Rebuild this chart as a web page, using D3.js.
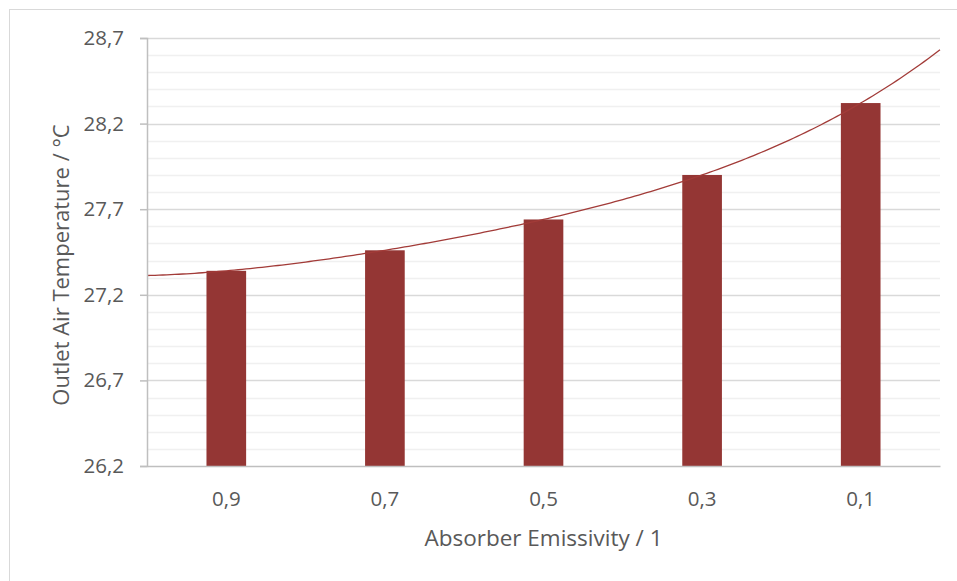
<!DOCTYPE html>
<meta charset="utf-8">
<style>
body { margin: 0; background: #fff; }
text { font-family: "Open Sans", sans-serif; fill: #595959; }
</style>
<body>
<script src="https://d3js.org/d3.v7.min.js"></script>
<script>

// data
var categories = ["0,9", "0,7", "0,5", "0,3", "0,1"];
var temps = [27.34, 27.46, 27.64, 27.90, 28.32];
var majorTicks = [26.2, 26.7, 27.2, 27.7, 28.2, 28.7];

var W = 957, H = 581;
var margin = {top: 38, right: 17, bottom: 115, left: 147},
    width = W - margin.left - margin.right,
    height = H - margin.top - margin.bottom;

var svg = d3.select("body").append("svg")
    .attr("width", W)
    .attr("height", H);

// chart frame
svg.append("rect")
    .attr("x", 9.5).attr("y", 9.5)
    .attr("width", 1000).attr("height", 1000)
    .attr("fill", "none")
    .attr("stroke", "#d9d9d9");

var g = svg.append("g")
    .attr("transform", `translate(${margin.left}, ${margin.top})`);

var x = d3.scaleBand()
    .domain(categories)
    .range([0, width])
    .paddingInner(0.75)
    .paddingOuter(0.375);

var y = d3.scaleLinear()
    .domain([26.2, 28.7])
    .range([height, 0]);

// minor gridlines every 0.1
var minor = d3.range(0, 26).map(i => +(26.2 + i * 0.1).toFixed(1))
    .filter(v => majorTicks.indexOf(v) < 0);

g.selectAll(".minor")
  .data(minor)
  .enter().append("line")
    .attr("class", "minor")
    .attr("x1", 0).attr("x2", width)
    .attr("y1", d => Math.round(y(d)) + 0.5)
    .attr("y2", d => Math.round(y(d)) + 0.5)
    .attr("stroke", "#f0f0f0")
    .attr("stroke-width", 1.5);

g.selectAll(".major")
  .data(majorTicks.slice(1))
  .enter().append("line")
    .attr("class", "major")
    .attr("x1", 0).attr("x2", width)
    .attr("y1", d => Math.round(y(d)) + 0.5)
    .attr("y2", d => Math.round(y(d)) + 0.5)
    .attr("stroke", "#d9d9d9")
    .attr("stroke-width", 1.5);

// bars
g.selectAll(".bar")
  .data(temps)
  .enter().append("rect")
    .attr("class", "bar")
    .attr("x", (d, i) => x(categories[i]))
    .attr("width", x.bandwidth())
    .attr("y", d => y(d))
    .attr("height", d => height - y(d))
    .attr("fill", "#943634");

// polynomial trendline (order 4) through the bar values
function trend(u) {
  var s = 0;
  for (var i = 0; i < temps.length; i++) {
    var l = 1;
    for (var j = 0; j < temps.length; j++) {
      if (j != i) l *= (u - (j + 1)) / ((i + 1) - (j + 1));
    }
    s += l * temps[i];
  }
  return s;
}

// map category index (1..n) to pixel
var xi = d3.scaleLinear().domain([0.5, categories.length + 0.5]).range([0, width]);
var trendPts = d3.range(0, 201).map(k => 0.5 + k * categories.length / 200);

g.append("path")
    .datum(trendPts)
    .attr("fill", "none")
    .attr("stroke", "#a23b38")
    .attr("stroke-width", 1.3)
    .attr("d", d3.line().x(u => xi(u)).y(u => y(trend(u))));

// y axis
var yAxis = g.append("g")
    .call(d3.axisLeft(y).tickValues(majorTicks).tickSize(7).tickPadding(16)
      .tickFormat(d => d3.format(".1f")(d).replace(".", ",")));
yAxis.select(".domain").attr("stroke", "#bfbfbf").attr("stroke-width", 1.5);
yAxis.selectAll(".tick line").attr("stroke", "#bfbfbf").attr("stroke-width", 1.5);
yAxis.selectAll(".tick text").attr("font-size", 20.5).style("fill", "#595959");

// x axis
var xAxis = g.append("g")
    .attr("transform", `translate(0, ${height})`)
    .call(d3.axisBottom(x).tickSize(0).tickPadding(25));
xAxis.select(".domain").attr("stroke", "#bfbfbf").attr("stroke-width", 1.5);
xAxis.selectAll(".tick text").attr("font-size", 20.5).style("fill", "#595959");

// titles
svg.append("text")
    .attr("x", margin.left + width / 2)
    .attr("y", 546)
    .attr("text-anchor", "middle")
    .attr("font-size", 22.5)
    .text("Absorber Emissivity / 1");

svg.append("text")
    .attr("transform", `translate(69, 265) rotate(-90)`)
    .attr("text-anchor", "middle")
    .attr("font-size", 22)
    .text("Outlet Air Temperature / °C");

</script>
</body>
